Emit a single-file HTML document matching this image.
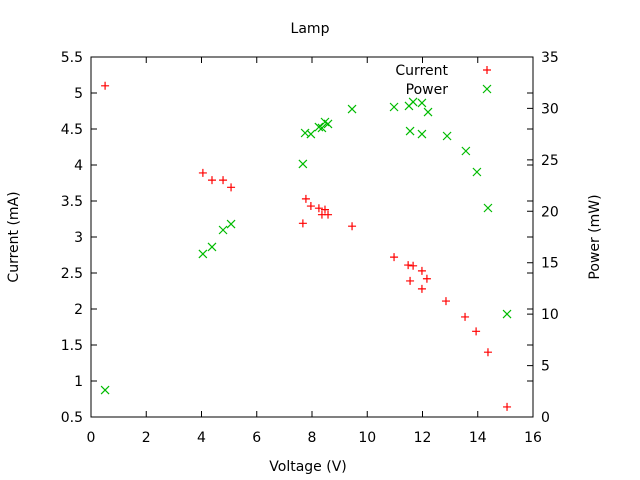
<!DOCTYPE html>
<html><head><meta charset="utf-8"><style>
body{margin:0;background:#fff}
svg{display:block;font-family:"DejaVu Sans","Liberation Sans",sans-serif;font-size:14px}
</style></head><body>
<svg id="chart" width="640" height="480" viewBox="0 0 640 480" xmlns="http://www.w3.org/2000/svg">
<rect width="640" height="480" fill="#fff"/>
<text x="310" y="33" text-anchor="middle">Lamp</text>
<text x="308" y="471" text-anchor="middle">Voltage (V)</text>
<text transform="translate(18,237) rotate(-90)" text-anchor="middle">Current (mA)</text>
<text transform="translate(599,237) rotate(-90)" text-anchor="middle">Power (mW)</text>
<g id="axes"></g>
<g id="marks"></g>
<g>
<text x="448" y="75" text-anchor="end">Current</text>
<text x="448" y="94" text-anchor="end">Power</text>
<path d="M483 70h8M487 66v8" stroke="#f00" stroke-width="1.2"/>
<path d="M483 85l8 8M491 85l-8 8" stroke="#0b0" stroke-width="1.2"/>
</g>
</svg>
<script>
const voltage = [0.51,4.05,4.38,4.78,5.07,7.67,7.78,7.96,8.25,8.47,8.36,8.58,9.45,10.97,11.48,11.66,11.55,11.98,12.16,11.98,12.85,13.54,13.94,14.37,15.06];
const current = [5.10,3.89,3.79,3.79,3.69,3.19,3.53,3.43,3.40,3.38,3.31,3.31,3.15,2.72,2.61,2.60,2.39,2.53,2.42,2.28,2.11,1.89,1.69,1.40,0.64];
const powerV = [0.51,4.05,4.38,4.78,5.07,7.67,7.75,7.96,8.25,8.36,8.47,8.58,9.45,10.97,11.51,11.66,11.98,12.2,11.55,11.98,12.89,13.57,13.97,14.37,15.06];
const power = [2.62,15.85,16.53,18.18,18.76,24.60,27.61,27.51,28.19,28.10,28.68,28.49,29.94,30.14,30.24,30.63,30.53,29.65,27.80,27.51,27.32,25.86,23.82,20.32,10.01];
const xTicks = [0,2,4,6,8,10,12,14,16];
const yTicks = ["0.5","1","1.5","2","2.5","3","3.5","4","4.5","5","5.5"];
const y2Ticks = [0,5,10,15,20,25,30,35];

const L=91,R=533,T=57,B=417;
const sx=v=>L+(v-0)/16*(R-L);
const sy=v=>B-(v-0.5)/5*(B-T);
const sy2=v=>B-v/35*(B-T);
const NS="http://www.w3.org/2000/svg";
const axes=document.getElementById('axes'), marks=document.getElementById('marks');
function mk(tag,attrs,parent){const e=document.createElementNS(NS,tag);for(const k in attrs)e.setAttribute(k,attrs[k]);parent.appendChild(e);return e;}
const frame=mk('rect',{x:L,y:T,width:R-L,height:B-T,fill:'none',stroke:'#000','stroke-width':1},axes);


let d='';
xTicks.forEach(t=>{const x=sx(t);d+=`M${x} ${B}v-6M${x} ${T}v6`;
 const tx=mk('text',{x:x,y:B+25,'text-anchor':'middle'},axes);tx.textContent=t;
 
 });
yTicks.forEach(t=>{const y=sy(parseFloat(t));d+=`M${L} ${y}h6M${R} ${y}h-6`;
 const tx=mk('text',{x:L-8,y:y+5,'text-anchor':'end'},axes);tx.textContent=t;
 
 });
y2Ticks.forEach(t=>{const y=sy2(t);d+=`M${R} ${y}h-6`;
 const tx=mk('text',{x:R+8,y:y+5,'text-anchor':'start'},axes);tx.textContent=t;
 
 });
const tk=mk('path',{d:d,stroke:'#000','stroke-width':1,fill:'none'},axes);


voltage.forEach((v,i)=>{const x=sx(v),y=sy(current[i]);
 const p=mk('path',{d:`M${x-4} ${y}h8M${x} ${y-4}v8`,stroke:'#f00','stroke-width':1.2},marks);
 
 });
powerV.forEach((v,i)=>{const x=sx(v),y=sy2(power[i]);
 const p=mk('path',{d:`M${x-4} ${y-4}l8 8M${x+4} ${y-4}l-8 8`,stroke:'#0b0','stroke-width':1.2},marks);
 
 });
</script>
</body></html>
